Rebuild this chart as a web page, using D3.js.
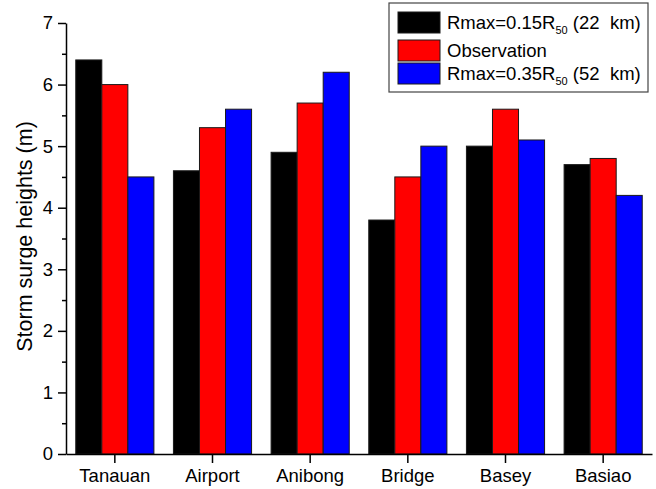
<!DOCTYPE html>
<html>
<head>
<meta charset="utf-8">
<script src="https://cdn.jsdelivr.net/npm/d3@7"></script>
<style>
  body { margin: 0; background: #fff; }
  svg { font-family: "Liberation Sans", Arial, sans-serif; }
  text { white-space: pre; }
</style>
</head>
<body>
<svg id="chart" width="656" height="489"></svg>
<script>
// data
const sites = ['Tanauan', 'Airport', 'Anibong', 'Bridge', 'Basey', 'Basiao']
const rmax015 = [6.4, 4.6, 4.9, 3.8, 5.0, 4.7]
const observation = [6.0, 5.3, 5.7, 4.5, 5.6, 4.8]
const rmax035 = [4.5, 5.6, 6.2, 5.0, 5.1, 4.2]
const seriesKeys = ['r15', 'obs', 'r35']
const seriesColors = ['#000000', '#ff0000', '#0000ff']
const yTicks = [0, 1, 2, 3, 4, 5, 6, 7]

const rows = sites.map((s, i) => ({ site: s, r15: rmax015[i], obs: observation[i], r35: rmax035[i] }))

const width = 656
const height = 489
const margin = { top: 23, right: 4, bottom: 35, left: 66 }

const svg = d3.select('#chart')

// scales
const x0 = d3.scaleBand()
    .domain(sites)
    .range([margin.left, width - margin.right])
    .paddingInner(0.2)
    .paddingOuter(0.1)

const x1 = d3.scaleBand()
    .domain(seriesKeys)
    .range([0, x0.bandwidth()])

const y = d3.scaleLinear()
    .domain([0, 7])
    .range([height - margin.bottom, margin.top])

const color = d3.scaleOrdinal().domain(seriesKeys).range(seriesColors)

// bars
svg.append('g')
    .selectAll('g')
    .data(rows)
    .join('g')
    .attr('transform', d => `translate(${x0(d.site)},0)`)
    .selectAll('rect')
    .data(d => seriesKeys.map(k => ({ key: k, value: d[k] })))
    .join('rect')
    .attr('x', d => x1(d.key))
    .attr('y', d => y(d.value))
    .attr('width', x1.bandwidth())
    .attr('height', d => y(0) - y(d.value))
    .attr('fill', d => color(d.key))
    .attr('stroke', '#1a1a1a')
    .attr('stroke-width', 1)

// y axis, minor ticks first then major
svg.append('g')
    .attr('transform', `translate(${margin.left},0)`)
    .call(d3.axisLeft(y).tickValues(d3.range(0.5, 7, 1)).tickSize(4).tickFormat(''))
    .call(g => g.select('.domain').remove())
    .call(g => g.selectAll('line').attr('stroke', '#000').attr('stroke-width', 1.5))

const yAxis = svg.append('g')
    .attr('transform', `translate(${margin.left},0)`)
    .call(d3.axisLeft(y).tickValues(yTicks).tickSize(8).tickSizeOuter(0).tickPadding(5).tickFormat(d3.format('d')))

yAxis.select('.domain').attr('stroke', '#000').attr('stroke-width', 1.5)
yAxis.selectAll('line').attr('stroke', '#000').attr('stroke-width', 1.5)
yAxis.selectAll('text').attr('font-size', 18.5).attr('fill', '#000')
    .attr('font-family', '"Liberation Sans", Arial, sans-serif')

// x axis
const xAxis = svg.append('g')
    .attr('transform', `translate(0,${height - margin.bottom})`)
    .call(d3.axisBottom(x0).tickSize(9).tickSizeOuter(0).tickPadding(6))

xAxis.select('.domain').attr('stroke', '#000').attr('stroke-width', 1.5)
xAxis.selectAll('line').attr('stroke', '#000').attr('stroke-width', 1.5)
xAxis.selectAll('text').attr('font-size', 18.5).attr('fill', '#000')
    .attr('font-family', '"Liberation Sans", Arial, sans-serif')

// y label
svg.append('text')
    .attr('transform', `translate(32,${(margin.top + height - margin.bottom) / 2 - 2}) rotate(-90)`)
    .attr('text-anchor', 'middle')
    .attr('font-size', 21.5)
    .text('Storm surge heights (m)')

// legend
const legend = svg.append('g')
legend.append('rect')
    .attr('x', 389).attr('y', 3)
    .attr('width', 259).attr('height', 89)
    .attr('fill', '#fff')
    .attr('stroke', '#444')
    .attr('stroke-width', 1.2)

const legendItems = [
    { key: 'r15', top: 12, parts: ['Rmax=0.15R', '50', ' (22  km)'] },
    { key: 'obs', top: 40, parts: ['Observation'] },
    { key: 'r35', top: 63, parts: ['Rmax=0.35R', '50', ' (52  km)'] }
]

legendItems.forEach(it => {
    legend.append('rect')
        .attr('x', 398).attr('y', it.top)
        .attr('width', 42).attr('height', 21)
        .attr('fill', color(it.key))
        .attr('stroke', '#1a1a1a')
        .attr('stroke-width', 1)

    const t = legend.append('text')
        .attr('x', 447)
        .attr('y', it.top + 17)
        .attr('font-size', 18.5)
    t.append('tspan').text(it.parts[0])
    if (it.parts.length > 1) {
        t.append('tspan').attr('font-size', 11).attr('dy', 5).text(it.parts[1])
        t.append('tspan').attr('dy', -5).text(it.parts[2])
    }
})
</script>
</body>
</html>
